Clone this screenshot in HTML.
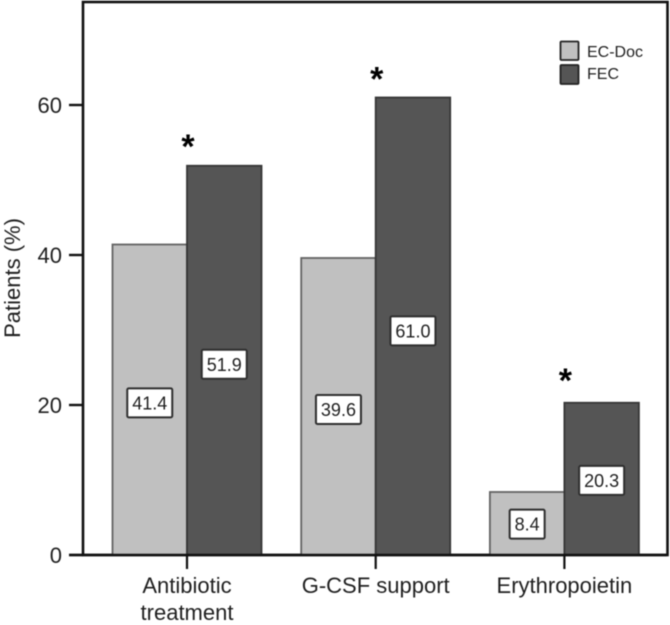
<!DOCTYPE html>
<html>
<head>
<meta charset="utf-8">
<title>Patients chart</title>
<style>
html,body{margin:0;padding:0;background:#fff;width:670px;height:625px;overflow:hidden}
svg{display:block;filter:blur(0.55px)}
text{font-family:"Liberation Sans",sans-serif;fill:#1f1f1f}
</style>
</head>
<body>
<svg id="chart" width="670" height="625" viewBox="0 0 670 625" xmlns="http://www.w3.org/2000/svg">
  <text transform="translate(20,278) rotate(-90)" text-anchor="middle" font-size="22">Patients (%)</text>
  <rect x="83" y="2" width="584.5" height="553" fill="#fff" stroke="#111" stroke-width="2.6"/>
  <g id="bars"></g>
  <g id="axes"></g>
  <g id="labels"></g>
  <g>
    <rect x="560.5" y="41.5" width="18" height="18.5" rx="1" fill="#c0c0c0" stroke="#222" stroke-width="1.8"/>
    <text x="587" y="57" font-size="16">EC-Doc</text>
    <rect x="560.5" y="65" width="18" height="19" rx="1" fill="#555" stroke="#222" stroke-width="1.8"/>
    <text x="587" y="79" font-size="16">FEC</text>
  </g>
</svg>
<script>
const categories = [["Antibiotic", "treatment"], ["G-CSF support"], ["Erythropoietin"]];
const ecDocValues = [41.4, 39.6, 8.4];
const fecValues = [51.9, 61.0, 20.3];
const significant = [true, true, true];
const yTicks = [0, 20, 40, 60];

const NS = 'http://www.w3.org/2000/svg';
const barsG = document.getElementById('bars');
const axesG = document.getElementById('axes');
const labelsG = document.getElementById('labels');

function yScale(v) { return 555 - v * 7.5; }
function xCenter(i) { return 187 + i * 188.7; }
const barWidth = 74.5;

function mk(tag, attrs, parent, txt) {
  const el = document.createElementNS(NS, tag);
  for (const k in attrs) el.setAttribute(k, attrs[k]);
  if (txt !== undefined) el.textContent = txt;
  parent.appendChild(el);
  return el;
}

function drawBar(x, value, fill, stroke) {
  const top = yScale(value);
  const r = mk('rect', { x: x, y: top, width: barWidth, height: 555 - top, fill: fill, stroke: stroke, 'stroke-width': 1.8 }, barsG);
  
  
}

function drawValueLabel(cx, value) {
  const text = value.toFixed(1);
  const w = text.length === 3 ? 35 : 45;
  const cy = yScale(value * 0.49);
  const b = mk('rect', { x: cx - w / 2, y: cy - 14.5, width: w, height: 29, rx: 1.5, fill: '#fff', stroke: '#2e2e2e', 'stroke-width': 2 }, labelsG);
  
  
  const t = mk('text', { x: cx, y: cy + 6.5, 'text-anchor': 'middle', 'font-size': 18 }, labelsG, text);
  
  
}

categories.forEach(function (lines, i) {
  const c = xCenter(i);
  drawBar(c - barWidth, ecDocValues[i], '#c0c0c0', '#636363');
  drawBar(c, fecValues[i], '#555555', '#363636');
  drawValueLabel(c - barWidth / 2, ecDocValues[i]);
  drawValueLabel(c + barWidth / 2, fecValues[i]);

  if (significant[i]) {
    const s = mk('text', { x: c + 1, y: 542 - fecValues[i] * 7.4, 'text-anchor': 'middle', 'font-size': 34, 'font-weight': 'bold', style: 'fill:#000' }, labelsG, '*');
    
    
  }

  const tick = mk('line', { x1: c, x2: c, y1: 555, y2: 569, stroke: '#111', 'stroke-width': 2.2 }, axesG);
  
  

  lines.forEach(function (line, j) {
    const t = mk('text', { x: c, y: 593 + j * 27, 'text-anchor': 'middle', 'font-size': 22 }, axesG, line);
    
    
  });
});

const xAxisLine = mk('line', { x1: 69, x2: 667, y1: 555, y2: 555, stroke: '#111', 'stroke-width': 2.6 }, axesG);



yTicks.forEach(function (v) {
  const y = yScale(v);
  const tick = mk('line', { x1: 69, x2: 83, y1: y, y2: y, stroke: '#111', 'stroke-width': 2.4 }, axesG);
  
  
  const t = mk('text', { x: 62, y: y + 8, 'text-anchor': 'end', 'font-size': 22 }, axesG, String(v));
  
  
});
</script>
</body>
</html>
